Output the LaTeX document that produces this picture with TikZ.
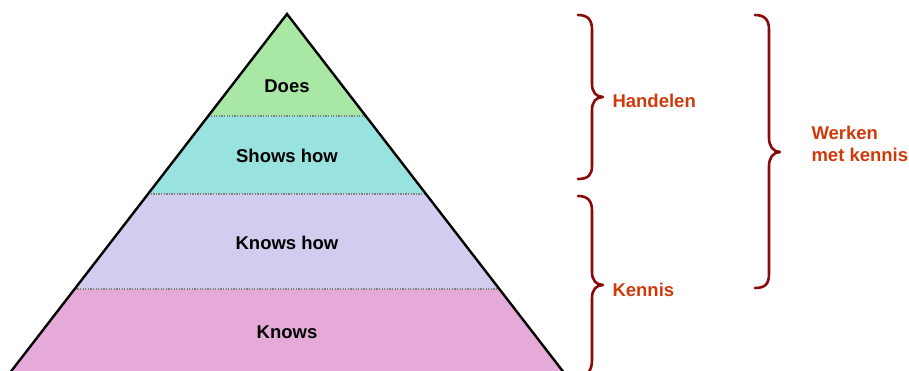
\documentclass[tikz,border=0pt]{standalone}
\usepackage{fontspec}
\setmainfont{Liberation Sans}
\definecolor{cDoes}{HTML}{A9E8A4}
\definecolor{cShows}{HTML}{98E3DF}
\definecolor{cKhow}{HTML}{D1CDEF}
\definecolor{cKnows}{HTML}{E5AAD8}
\definecolor{brc}{HTML}{8A0A0A}
\definecolor{lbl}{HTML}{CF3A0A}
\begin{document}
\begin{tikzpicture}[x=1pt,y=-1pt,
  layertxt/.style={font=\fontsize{18.5}{22}\selectfont\bfseries, text=black},
  bracetxt/.style={font=\fontsize{18.5}{22}\selectfont\bfseries, text=lbl, anchor=west, align=left},
  bracepath/.style={draw=brc, line width=2.6pt, line cap=round, line join=round},
  divider/.style={draw=gray, line width=1.3pt, dash pattern=on 1.3pt off 1.3pt}]
\useasboundingbox (0,0) rectangle (909,371);
\clip (0,0) rectangle (909,371);
% coordinates
\coordinate (apex) at (287,14);
\coordinate (l1) at (208.3,116); \coordinate (r1) at (365.7,116);
\coordinate (l2) at (148,194);   \coordinate (r2) at (426,194);
\coordinate (l3) at (74.7,289);  \coordinate (r3) at (499.3,289);
\coordinate (l4) at (4.4,380);   \coordinate (r4) at (569.6,380);
% fills
\fill[cDoes] (apex) -- (r1) -- (l1) -- cycle;
\fill[cShows] (l1) -- (r1) -- (r2) -- (l2) -- cycle;
\fill[cKhow] (l2) -- (r2) -- (r3) -- (l3) -- cycle;
\fill[cKnows] (l3) -- (r3) -- (r4) -- (l4) -- cycle;
% dividers
\draw[divider] (l1) -- (r1);
\draw[divider] (l2) -- (r2);
\draw[divider] (l3) -- (r3);
% outline
\draw[black, line width=2.4pt, line join=miter] (l4) -- (apex) -- (r4);
% labels
\node[layertxt] (does) at (287,86) {Does};
\node[layertxt] (shows) at (287,156) {Shows how};
\node[layertxt] (khow) at (287,243) {Knows how};
\node[layertxt] (knows) at (287,332) {Knows};
% braces
\draw[bracepath] (578,15) .. controls (588,15) and (592,20) .. (592,30) -- (592,84)
  .. controls (592,92) and (596,97) .. (603,97)
  .. controls (596,97) and (592,102) .. (592,110) -- (592,166)
  .. controls (592,175) and (588,179) .. (578,179);
\draw[bracepath] (578,196) .. controls (588,196) and (592,201) .. (592,211) -- (592,272)
  .. controls (592,280) and (596,285) .. (603,285)
  .. controls (596,285) and (592,290) .. (592,298) -- (592,360)
  .. controls (592,370) and (588,376) .. (578,378);
\draw[bracepath] (755,15) .. controls (765,15) and (769,20) .. (769,30) -- (769,138)
  .. controls (769,146) and (773,152) .. (780,152)
  .. controls (773,152) and (769,158) .. (769,166) -- (769,274)
  .. controls (769,284) and (765,288) .. (755,288);
\node[bracetxt] (handelen) at (609,101) {Handelen};
\node[bracetxt] (kennis) at (609,290) {Kennis};
\node[bracetxt] (werken) at (808,144) {Werken\\met kennis};
\end{tikzpicture}
\end{document}
